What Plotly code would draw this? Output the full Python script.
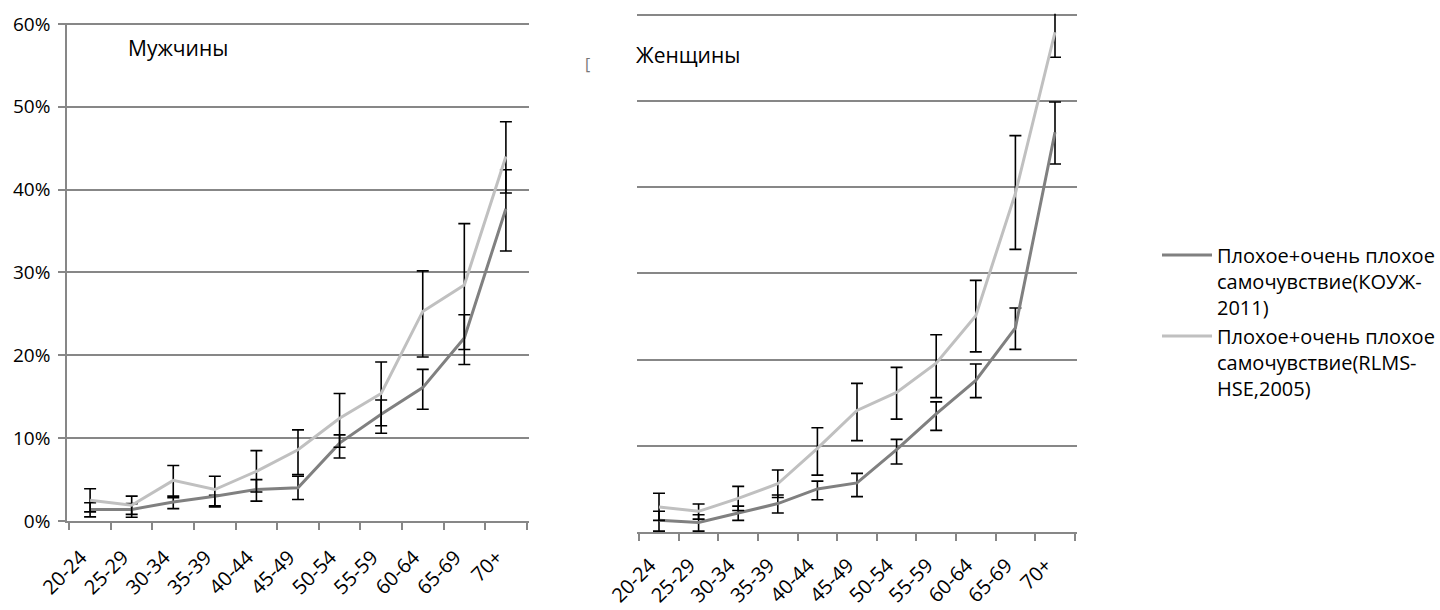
import plotly.graph_objects as go

categories = ["20-24", "25-29", "30-34", "35-39", "40-44", "45-49",
              "50-54", "55-59", "60-64", "65-69", "70+"]

# Men
men_kouzh = [1.4, 1.4, 2.3, 3.0, 3.8, 4.0, 9.4, 12.9, 16.1, 22.1, 37.7]
men_kouzh_hi = [2.2, 2.1, 2.8, 3.1, 5.0, 5.4, 10.4, 14.6, 18.3, 24.9, 42.4]
men_kouzh_lo = [0.5, 0.45, 1.5, 1.85, 2.4, 2.6, 7.6, 10.6, 13.5, 18.9, 32.6]
men_rlms = [2.5, 1.9, 4.9, 3.8, 6.0, 8.6, 12.4, 15.4, 25.3, 28.5, 44.0]
men_rlms_hi = [3.9, 3.0, 6.7, 5.4, 8.5, 11.0, 15.4, 19.2, 30.2, 35.9, 48.2]
men_rlms_lo = [1.1, 0.8, 3.0, 1.7, 3.5, 5.6, 8.9, 11.5, 19.8, 20.7, 39.6]

# Women
wom_kouzh = [1.35, 1.1, 2.2, 3.3, 5.0, 5.7, 9.55, 13.7, 17.6, 23.7, 46.4]
wom_kouzh_hi = [2.4, 2.0, 3.0, 4.3, 5.9, 6.8, 10.75, 15.1, 19.5, 26.0, 49.9]
wom_kouzh_lo = [0.1, 0.1, 1.35, 2.2, 3.75, 4.1, 7.9, 11.8, 15.6, 21.2, 42.7]
wom_rlms = [2.9, 2.4, 3.9, 5.6, 9.7, 14.1, 16.2, 19.6, 25.1, 39.3, 58.0]
wom_rlms_hi = [4.5, 3.25, 5.3, 7.2, 12.1, 17.25, 19.1, 22.9, 29.2, 46.0, 61.0]
wom_rlms_lo = [1.35, 1.5, 2.5, 4.0, 6.6, 10.6, 13.1, 15.6, 20.9, 32.8, 55.1]

y_ticks = [0, 10, 20, 30, 40, 50, 60]
y_tick_labels = ["0%", "10%", "20%", "30%", "40%", "50%", "60%"]
name_kouzh = "Плохое+очень плохое<br>самочувствие(КОУЖ-<br>2011)"
name_rlms = "Плохое+очень плохое<br>самочувствие(RLMS-<br>HSE,2005)"
title_men = "Мужчины"
title_women = "Женщины"

DARK = "#808080"
LIGHT = "#c0c0c0"
GRID = "#878787"
FONT = "Open Sans"
YMAX = 60.15


def err(vals, hi, lo):
    return dict(type="data", symmetric=False,
                array=[h - v for v, h in zip(vals, hi)],
                arrayminus=[v - l for v, l in zip(vals, lo)],
                color="black", thickness=1.6, width=6, visible=True)


fig = go.Figure()

series = [
    ("x", "y", men_kouzh, men_kouzh_hi, men_kouzh_lo, DARK, name_kouzh, True, "k"),
    ("x", "y", men_rlms, men_rlms_hi, men_rlms_lo, LIGHT, name_rlms, True, "r"),
    ("x2", "y2", wom_kouzh, wom_kouzh_hi, wom_kouzh_lo, DARK, name_kouzh, False, "k"),
    ("x2", "y2", wom_rlms, wom_rlms_hi, wom_rlms_lo, LIGHT, name_rlms, False, "r"),
]
for xa, ya, vals, hi, lo, col, nm, show, grp in series:
    fig.add_trace(go.Scatter(
        x=categories, y=vals, xaxis=xa, yaxis=ya, mode="lines",
        line=dict(color=col, width=3), name=nm, legendgroup=grp,
        showlegend=show, error_y=err(vals, hi, lo)))

# pixel geometry of the two plot areas
men_y0, men_y60 = 521, 24
wom_y0, wom_y60 = 532, 15
men_top = men_y0 - (men_y0 - men_y60) * YMAX / 60
wom_top = wom_y0 - (wom_y0 - wom_y60) * YMAX / 60

xaxis_common = dict(type="category", showline=True, linecolor=GRID,
                    linewidth=1.5, ticks="outside", tickson="boundaries",
                    ticklen=7, tickcolor=GRID, tickwidth=1.5, tickangle=-45,
                    tickfont=dict(family=FONT, size=20, color="black"),
                    showgrid=False, automargin=False, ticklabelshift=-9)

fig.update_layout(
    width=1440, height=610,
    margin=dict(l=0, r=0, t=0, b=0),
    paper_bgcolor="white", plot_bgcolor="white",
    font=dict(family=FONT, color="black"),
    showlegend=True,
    legend=dict(x=0.8035, y=0.614, xanchor="left", yanchor="top",
                font=dict(family=FONT, size=20, color="black"),
                valign="top", bgcolor="rgba(0,0,0,0)", itemwidth=50,
                tracegroupgap=0),
    xaxis=dict(domain=[67 / 1440, 529 / 1440], anchor="y",
               ticklabelstandoff=15, **xaxis_common),
    yaxis=dict(domain=[1 - men_y0 / 610, 1 - men_top / 610],
               range=[0, YMAX], tickmode="array", tickvals=y_ticks,
               ticktext=y_tick_labels, showline=True,
               linecolor=GRID, linewidth=1.5, ticks="outside", ticklen=7,
               tickcolor=GRID, tickwidth=1.5, showgrid=True,
               gridcolor=GRID, gridwidth=1.5, zeroline=False,
               tickfont=dict(family=FONT, size=19, color="black"),
               ticklabelstandoff=4, automargin=False, anchor="x"),
    xaxis2=dict(domain=[637 / 1440, 1077 / 1440], anchor="y2",
                ticklabelstandoff=12, **xaxis_common),
    yaxis2=dict(domain=[1 - wom_y0 / 610, 1 - wom_top / 610],
                range=[0, YMAX], tickmode="array", tickvals=y_ticks,
                showticklabels=False, showline=False,
                ticks="", showgrid=True, gridcolor=GRID, gridwidth=1.5,
                zeroline=False, automargin=False, anchor="x2"),
    annotations=[
        dict(text=title_men, x=126 / 1440, y=1 - 48 / 610, xref="paper",
             yref="paper", xanchor="left", yanchor="middle",
             showarrow=False, font=dict(family=FONT, size=21, color="black")),
        dict(text=title_women, x=634 / 1440, y=1 - 55 / 610, xref="paper",
             yref="paper", xanchor="left", yanchor="middle",
             showarrow=False, font=dict(family=FONT, size=21, color="black")),
        dict(text="[", x=587 / 1440, y=1 - 64 / 610, xref="paper",
             yref="paper", xanchor="center", yanchor="middle",
             showarrow=False, font=dict(family=FONT, size=16, color="#777777")),
    ],
)

fig.write_html("out.html")
